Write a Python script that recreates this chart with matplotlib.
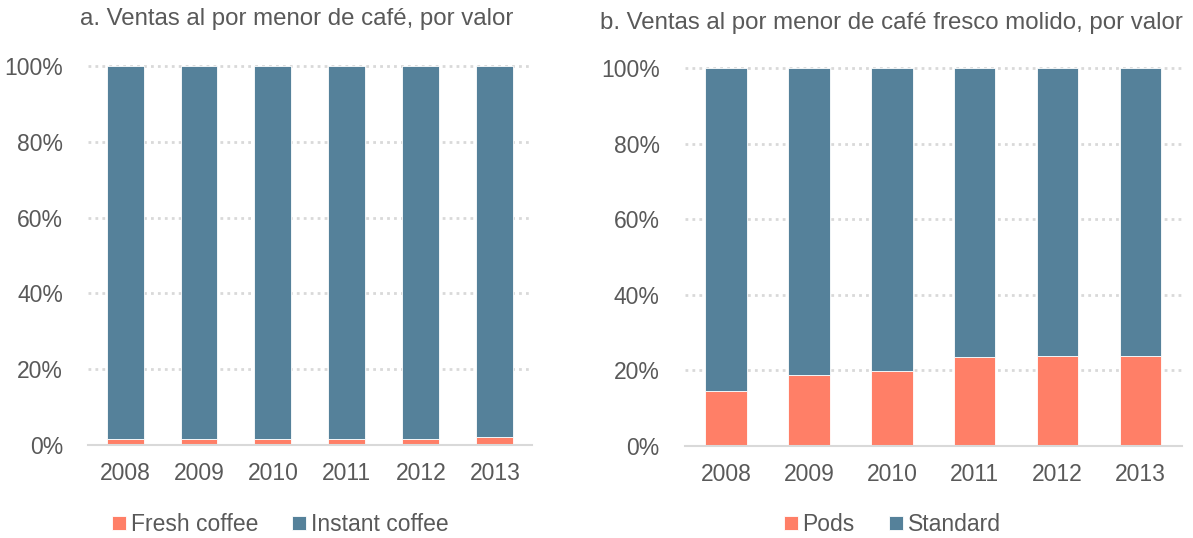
import matplotlib.pyplot as plt
import numpy as np

plt.rcParams['font.family'] = ['Liberation Sans', 'DejaVu Sans']

years = ['2008', '2009', '2010', '2011', '2012', '2013']
fresh = [1.5, 1.5, 1.5, 1.5, 1.5, 2.0]
instant = [100 - v for v in fresh]
pods = [14.5, 18.7, 19.8, 23.6, 23.8, 23.8]
standard = [100 - v for v in pods]

c_orange = '#FF7F67'
c_blue = '#55819A'
c_text = '#595959'
c_grid = '#D9D9D9'

fig = plt.figure(figsize=(11.93, 5.38), dpi=100)
ax1 = fig.add_axes([0.0738, 0.1729, 0.372, 0.7045])
ax2 = fig.add_axes([0.574, 0.171, 0.4166, 0.7026])


def draw(ax, low, high, lab_low, lab_high):
    x = np.arange(len(years))
    low = np.array(low) / 100
    high = np.array(high) / 100
    ax.bar(x, low, width=0.5, color=c_orange, edgecolor='white', linewidth=0.6,
           label=lab_low, zorder=2)
    ax.bar(x, high, width=0.5, bottom=low, color=c_blue, edgecolor='white',
           linewidth=0.6, label=lab_high, zorder=2)
    ax.set_xlim(-0.5, 5.5)
    ax.set_ylim(0, 1)
    ax.set_yticks([0, 0.2, 0.4, 0.6, 0.8, 1.0])
    ax.set_yticklabels(['0%', '20%', '40%', '60%', '80%', '100%'])
    ax.set_xticks(x)
    ax.set_xticklabels(years)
    for y in [0.2, 0.4, 0.6, 0.8, 1.0]:
        ax.axhline(y, color=c_grid, linestyle=(0, (1, 1.5)), linewidth=2,
                   zorder=1, clip_on=False)
    for s in ['top', 'right', 'left']:
        ax.spines[s].set_visible(False)
    ax.spines['bottom'].set_color(c_grid)
    ax.spines['bottom'].set_linewidth(1.5)
    ax.tick_params(axis='both', length=0, labelsize=16.5, colors=c_text)
    ax.tick_params(axis='y', pad=18)
    ax.tick_params(axis='x', pad=12)


draw(ax1, fresh, instant, 'Fresh coffee', 'Instant coffee')
draw(ax2, pods, standard, 'Pods', 'Standard')

fig.text(0.249, 0.965, 'a. Ventas al por menor de café, por valor', ha='center',
         va='center', fontsize=17.3, color=c_text)
fig.text(0.747, 0.958, 'b. Ventas al por menor de café fresco molido, por valor',
         ha='center', va='center', fontsize=17.3, color=c_text)

for ax, cx in [(ax1, 0.235), (ax2, 0.748)]:
    ax.legend(loc='center', bbox_to_anchor=(cx, 0.025), bbox_transform=fig.transFigure,
              ncol=2, frameon=False, fontsize=16.5, handlelength=0.6, handleheight=0.6,
              handletextpad=0.2, columnspacing=1.5, labelcolor=c_text)

fig.savefig('out.png', dpi=100)
